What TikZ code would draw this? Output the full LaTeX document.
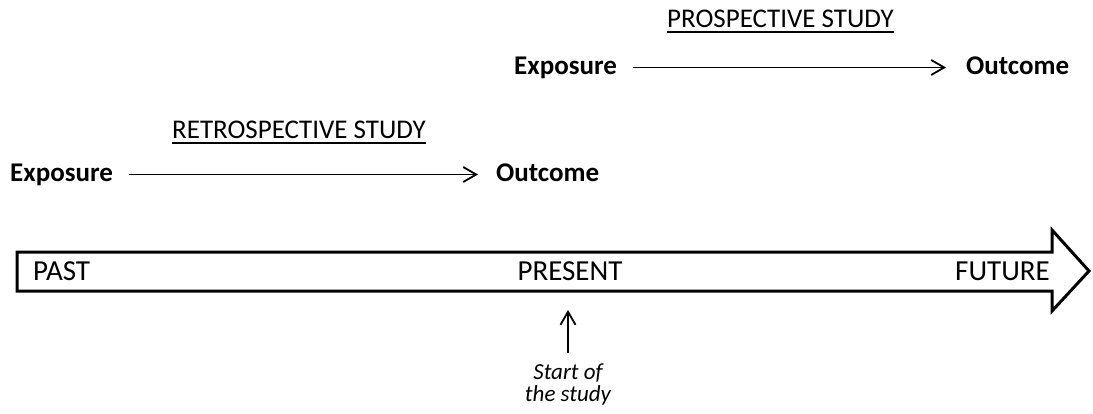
\documentclass[tikz,border=0pt]{standalone}
\usepackage{fontspec}
\setmainfont{Carlito}
\usetikzlibrary{arrows.meta}

\tikzset{
  label/.style={inner sep=0pt, font=\fontsize{29}{32}\selectfont},
  term/.style={inner sep=0pt, font=\fontsize{27}{30}\selectfont\bfseries,
    text height=18pt, text depth=5pt},
  title/.style={inner sep=0pt, font=\fontsize{27}{30}\selectfont},
  thinarrow/.style={line width=1.8pt, -{Straight Barb[length=13pt,width=15pt,line width=1.8pt]}},
  timeline/.style={line width=3pt, line join=miter, fill=white},
  note/.style={inner sep=0pt, align=center, font=\fontsize{23}{22}\selectfont\itshape}
}

\begin{document}
\begin{tikzpicture}[x=1pt,y=-1pt]
\useasboundingbox (0,0) rectangle (1093,413);

% time axis
\draw[timeline] (17,252) -- (1052,252) -- (1052,230) -- (1089,271)
  -- (1052,311) -- (1052,291) -- (17,291) -- cycle;
\node[label, anchor=base west] (past) at (33,280) {PAST};
\node[label, anchor=base] (present) at (570,280) {PRESENT};
\node[label, anchor=base east] (future) at (1050,280) {FUTURE};

% start of the study
\node[note, anchor=north] (start) at (568,364) {Start of\\the study};
\coordinate (startTail) at (568,353);
\coordinate (startTip) at (568,310);
\draw[thinarrow] (startTail) -- (startTip);

% retrospective study
\node[title, anchor=base west] (retro) at (172,138) {RETROSPECTIVE STUDY};
\draw[line width=1.5pt] ([yshift=-5pt]retro.base west) -- ([yshift=-5pt]retro.base east);
\node[term, anchor=base west] (expR) at (10,181) {Exposure};
\node[term, anchor=base west] (outR) at (496,181) {Outcome};
\draw[thinarrow, shorten <=16pt, shorten >=18pt] (expR.east) -- (outR.west);

% prospective study
\node[title, anchor=base west] (pro) at (667,27) {PROSPECTIVE STUDY};
\draw[line width=1.5pt] ([yshift=-5pt]pro.base west) -- ([yshift=-5pt]pro.base east);
\node[term, anchor=base west] (expP) at (514,74) {Exposure};
\node[term, anchor=base west] (outP) at (966,74) {Outcome};
\draw[thinarrow, shorten <=16pt, shorten >=20pt] (expP.east) -- (outP.west);
\end{tikzpicture}
\end{document}
